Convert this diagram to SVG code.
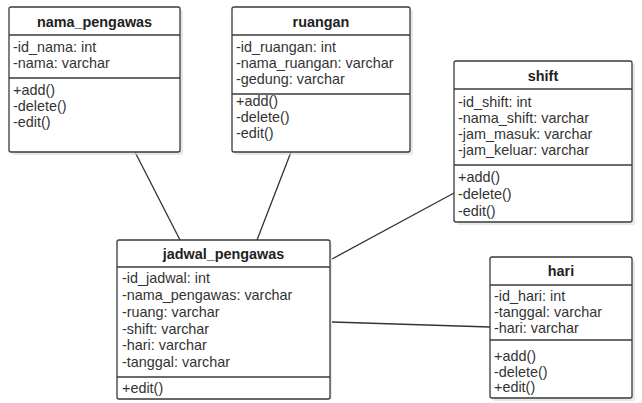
<svg xmlns="http://www.w3.org/2000/svg" width="642" height="403" viewBox="0 0 642 403">
<defs>
<style>
.bg{fill:#ffffff}
.box{fill:#ffffff;stroke:#3a3a3a;stroke-width:1.3}
.shadow{fill:#d8d8d8;opacity:0.6}
.sep{stroke:#3a3a3a;stroke-width:1.3}
.title{font-family:"Liberation Sans",Arial,sans-serif;font-size:14.4px;font-weight:bold;fill:#222;text-anchor:middle}
.t{font-family:"Liberation Sans",Arial,sans-serif;font-size:14.4px;fill:#333}
.conn{stroke:#333;stroke-width:1.3;fill:none}
</style>
</defs>
<rect class="bg" x="0" y="0" width="642" height="403"/>
<g id="connectors">
<line class="conn" x1="135" y1="152" x2="180" y2="240"/>
<line class="conn" x1="291" y1="152" x2="257" y2="240"/>
<line class="conn" x1="454" y1="193" x2="332" y2="259"/>
<line class="conn" x1="332" y1="322" x2="490" y2="327"/>
</g>
<g id="nama_pengawas">
<rect class="shadow" x="12" y="10" width="171" height="145" rx="2"/>
<rect class="box" x="9" y="7" width="171" height="145" rx="2"/>
<line class="sep" x1="9" y1="35" x2="180" y2="35"/>
<line class="sep" x1="9" y1="78" x2="180" y2="78"/>
<text class="title" x="94.5" y="27">nama_pengawas</text>
<text class="t" x="13" y="52">-id_nama: int</text>
<text class="t" x="13" y="68">-nama: varchar</text>
<text class="t" x="13" y="95">+add()</text>
<text class="t" x="13" y="111">-delete()</text>
<text class="t" x="13" y="127">-edit()</text>
</g>
<g id="ruangan">
<rect class="shadow" x="235" y="10" width="178" height="145" rx="2"/>
<rect class="box" x="232" y="7" width="178" height="145" rx="2"/>
<line class="sep" x1="232" y1="35" x2="410" y2="35"/>
<line class="sep" x1="232" y1="94" x2="410" y2="94"/>
<text class="title" x="321" y="27">ruangan</text>
<text class="t" x="236" y="52">-id_ruangan: int</text>
<text class="t" x="236" y="68">-nama_ruangan: varchar</text>
<text class="t" x="236" y="84">-gedung: varchar</text>
<text class="t" x="236" y="106">+add()</text>
<text class="t" x="236" y="122">-delete()</text>
<text class="t" x="236" y="138">-edit()</text>
</g>
<g id="shift">
<rect class="shadow" x="457" y="64" width="178" height="161" rx="2"/>
<rect class="box" x="454" y="61" width="178" height="161" rx="2"/>
<line class="sep" x1="454" y1="89" x2="632" y2="89"/>
<line class="sep" x1="454" y1="165" x2="632" y2="165"/>
<text class="title" x="543" y="81">shift</text>
<text class="t" x="458" y="107">-id_shift: int</text>
<text class="t" x="458" y="123">-nama_shift: varchar</text>
<text class="t" x="458" y="139">-jam_masuk: varchar</text>
<text class="t" x="458" y="155">-jam_keluar: varchar</text>
<text class="t" x="458" y="182">+add()</text>
<text class="t" x="458" y="199">-delete()</text>
<text class="t" x="458" y="216">-edit()</text>
</g>
<g id="jadwal_pengawas">
<rect class="shadow" x="120" y="243" width="212" height="157" rx="2"/>
<rect class="box" x="117" y="240" width="213" height="159" rx="2"/>
<line class="sep" x1="117" y1="267" x2="330" y2="267"/>
<line class="sep" x1="117" y1="377" x2="330" y2="377"/>
<text class="title" x="223.5" y="259">jadwal_pengawas</text>
<text class="t" x="122" y="283">-id_jadwal: int</text>
<text class="t" x="122" y="300">-nama_pengawas: varchar</text>
<text class="t" x="122" y="317">-ruang: varchar</text>
<text class="t" x="122" y="334">-shift: varchar</text>
<text class="t" x="122" y="350">-hari: varchar</text>
<text class="t" x="122" y="367">-tanggal: varchar</text>
<text class="t" x="122" y="393">+edit()</text>
</g>
<g id="hari">
<rect class="shadow" x="493" y="260" width="142" height="141" rx="2"/>
<rect class="box" x="490" y="257" width="142" height="141" rx="2"/>
<line class="sep" x1="490" y1="285" x2="632" y2="285"/>
<line class="sep" x1="490" y1="340" x2="632" y2="340"/>
<text class="title" x="561" y="276">hari</text>
<text class="t" x="494" y="301">-id_hari: int</text>
<text class="t" x="494" y="317">-tanggal: varchar</text>
<text class="t" x="494" y="333">-hari: varchar</text>
<text class="t" x="494" y="361">+add()</text>
<text class="t" x="494" y="377">-delete()</text>
<text class="t" x="494" y="392">+edit()</text>
</g>
</svg>
